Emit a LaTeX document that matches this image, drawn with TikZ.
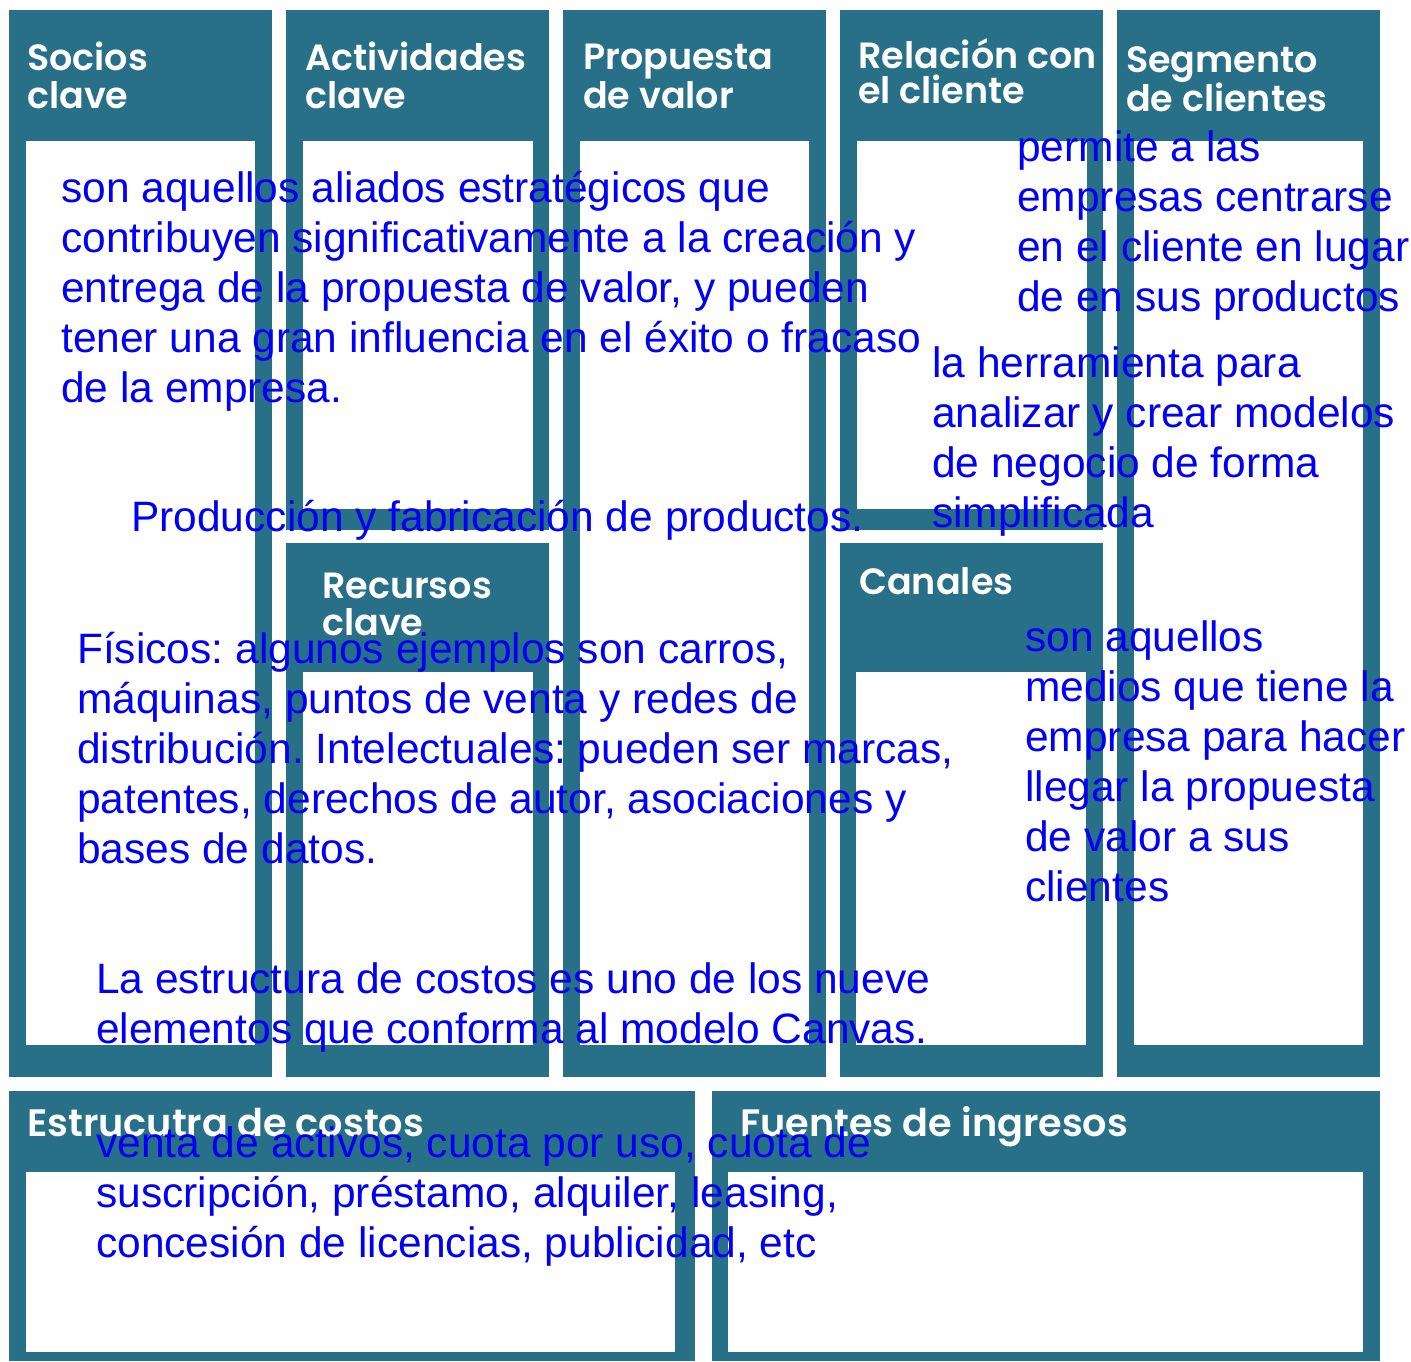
\documentclass[tikz,border=0pt]{standalone}
\usepackage{fontspec}
\setmainfont{Liberation Sans}
\newfontfamily\hdrfont{Poppins}[BoldFont={* SemiBold}]
\definecolor{tealbox}{HTML}{286F88}
\definecolor{txtblue}{HTML}{0000F5}
\newcommand\cell[8]{%
  \fill[tealbox] (#1,#2) rectangle (#3,#4);
  \fill[white] (#5,#6) rectangle (#7,#8);}
\newcommand\twoline[3]{\vtop{\baselineskip=#3pt\hbox{#1}\hbox{#2}}}
\frenchspacing
\begin{document}
\begin{tikzpicture}[x=1pt,y=-1pt,
  hdr/.style={anchor=base west, inner sep=0pt, text=white, font=\hdrfont\bfseries\fontsize{36.5}{38}\selectfont},
  hdrb/.style={hdr, font=\hdrfont\bfseries\fontsize{38.2}{38}\selectfont},
  body/.style={anchor=base west, inner sep=0pt, text=txtblue, font=\fontsize{42.5}{50}\selectfont}]
\useasboundingbox (0,0) rectangle (1411,1361);
\fill[white] (0,0) rectangle (1411,1361);
% boxes
\cell{9}{10}{272}{1077}{26}{141}{255}{1045}
\cell{286}{10}{549}{530}{303}{141}{533}{509}
\cell{286}{543}{549}{1077}{303}{672}{533}{1045}
\cell{563}{10}{826}{1077}{580}{141}{809}{1045}
\cell{840}{10}{1103}{530}{857}{141}{1087}{509}
\cell{840}{543}{1103}{1077}{856}{672}{1086}{1045}
\cell{1117}{10}{1380}{1077}{1134}{141}{1363}{1045}
\cell{9}{1091}{695}{1361}{26}{1172}{675}{1352}
\cell{712}{1091}{1380}{1361}{728}{1172}{1363}{1352}
% headers
\node[hdr] (hsocios) at (27,70) {\twoline{Socios}{clave}{38}};
\node[hdr] (hact) at (305,70) {\twoline{Actividades}{clave}{38}};
\node[hdr] (hprop) at (583,69) {\twoline{Propuesta}{de valor}{39}};
\node[hdr] (hrel) at (858,68) {\twoline{Relación con}{el cliente}{35}};
\node[hdr] (hseg) at (1126,72) {\twoline{Segmento}{de clientes}{36}};
\node[hdr] (hrec) at (322,598) {\twoline{Recursos}{clave}{37}};
\node[hdr] (hcan) at (859,594) {Canales};
\node[hdrb] (hest) at (27,1136) {Estrucutra de costos};
\node[hdrb] (hfue) at (740,1136) {Fuentes de ingresos};
% body texts
\node[body] (tsocios) at (61,202) {\vtop{\hbox{son aquellos aliados estratégicos que}\hbox{contribuyen significativamente a la creación y}\hbox{entrega de la propuesta de valor, y pueden}\hbox{tener una gran influencia en el éxito o fracaso}\hbox{de la empresa.}}};
\node[body] (tact) at (131,531) {Producción y fabricación de productos.};
\node[body] (trec) at (77,663) {\vtop{\hbox{Físicos: algunos ejemplos son carros,}\hbox{máquinas, puntos de venta y redes de}\hbox{distribución. Intelectuales: pueden ser marcas,}\hbox{patentes, derechos de autor, asociaciones y}\hbox{bases de datos.}}};
\node[body] (test) at (96,993) {\vtop{\hbox{La estructura de costos es uno de los nueve}\hbox{elementos que conforma al modelo Canvas.}}};
\node[body] (tfue) at (96,1157) {\vtop{\hbox{venta de activos, cuota por uso, cuota de}\hbox{suscripción, préstamo, alquiler, leasing,}\hbox{concesión de licencias, publicidad, etc}}};
\node[body] (tseg) at (1017,161) {\vtop{\hbox{permite a las}\hbox{empresas centrarse}\hbox{en el cliente en lugar}\hbox{de en sus productos}}};
\node[body] (tprop) at (932,377) {\vtop{\hbox{la herramienta para}\hbox{analizar y crear modelos}\hbox{de negocio de forma}\hbox{simplificada}}};
\node[body] (tcan) at (1025,651) {\vtop{\hbox{son aquellos}\hbox{medios que tiene la}\hbox{empresa para hacer}\hbox{llegar la propuesta}\hbox{de valor a sus}\hbox{clientes}}};
\end{tikzpicture}
\end{document}
